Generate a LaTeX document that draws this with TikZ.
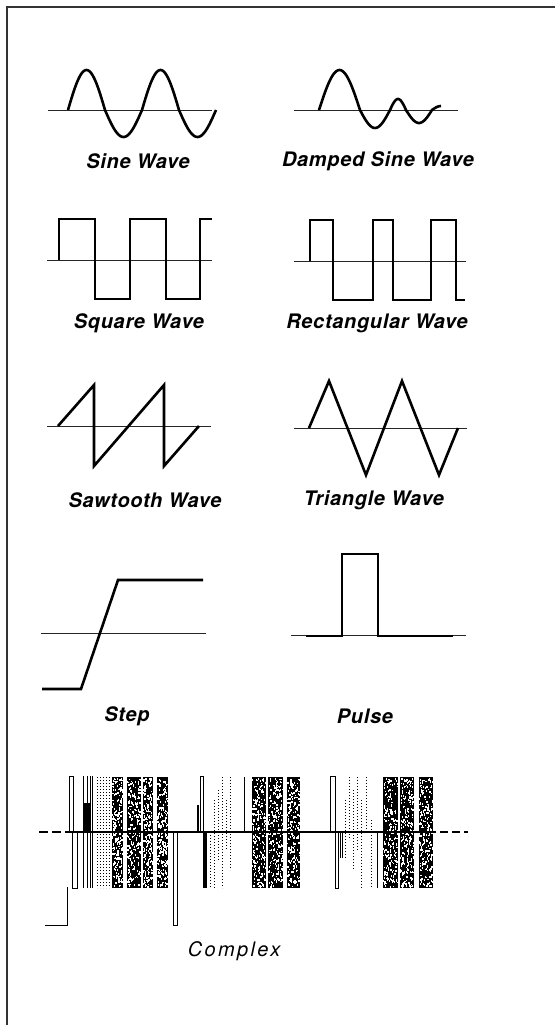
\documentclass[tikz,border=0pt]{standalone}
\usepackage{fontspec}
\setsansfont{TeX Gyre Heros}
\newfontfamily\wavefont[LetterSpace=3.5]{TeX Gyre Heros}
\newfontfamily\cplxfont[LetterSpace=12]{TeX Gyre Heros}

\begin{document}
\begin{tikzpicture}[
  x=1pt, y=-1pt,
  wave/.style={line width=2.6pt, line join=miter},
  axisline/.style={line width=0.8pt, black!85},
  wavelbl/.style={font=\wavefont\bfseries\itshape\fontsize{20}{20}\selectfont, inner sep=0pt},
  cplxlbl/.style={font=\cplxfont\itshape\fontsize{20}{20}\selectfont, inner sep=0pt},
  thinbar/.style={line width=0.8pt},
  dotline/.style={line width=0.7pt, dash pattern=on 1.2pt off 1.8pt},
  speck/.style={fill=white}
]
\useasboundingbox (0,0) rectangle (555,1025);

% frame
\draw[line width=1.4pt, black!80] (555,7) -- (7,7) -- (7,1025);

% sine wave
\draw[axisline] (48,110) -- (212,110);
\draw[wave] plot[domain=0:720, samples=121] ({68+\x/720*148}, {110-(sin(\x)>0 ? 40 : 27)*sin(\x)});
\node[wavelbl] (sinelbl) at (138,161) {Sine Wave};

% damped sine wave
\draw[axisline] (294,110) -- (458,110);
\draw[wave] plot[domain=0:180, samples=25] ({319+\x/180*41}, {110-40*sin(\x)})
  -- plot[domain=0:180, samples=25] ({360+\x/180*30}, {110+18*sin(\x)})
  -- plot[domain=0:180, samples=20] ({390+\x/180*16}, {110-11*sin(\x)})
  -- plot[domain=0:180, samples=20] ({406+\x/180*26}, {110+13*sin(\x)})
  -- plot[domain=0:90, samples=8] ({432+\x/90*9}, {110-4*sin(\x)});
\node[wavelbl] (dampedlbl) at (378,161) {Damped Sine Wave};

% square wave
\draw[axisline] (47,260) -- (212,260);
\draw[wave] (59,260) |- (95,219) |- (130,299) |- (166,219) |- (200,299) |- (212,219);
\node[wavelbl] (squarelbl) at (139,323) {Square Wave};

% rectangular wave
\draw[axisline] (294,261) -- (466,261);
\draw[wave] (310,261) |- (333,220) |- (373,300) |- (393,220) |- (431,300) |- (456,220) |- (465,300);
\node[wavelbl] (rectlbl) at (377,323) {Rectangular Wave};

% sawtooth wave
\draw[axisline] (47,426) -- (211,426);
\draw[wave] (58,426) -- (94,385) -- (94,466) -- (164,385) -- (164,466) -- (199,426);
\node[wavelbl] (sawlbl) at (145,500) {Sawtooth Wave};

% triangle wave
\draw[axisline] (294,428) -- (467,428);
\draw[wave] (309,428) -- (329,381) -- (366,475) -- (402,381) -- (439,475) -- (458,428);
\node[wavelbl] (trilbl) at (374,500) {Triangle Wave};

% step
\draw[axisline] (41,633) -- (206,633);
\draw[wave] (42,689) -- (81,689) -- (118,580) -- (203,580);
\node[wavelbl] (steplbl) at (127,716) {Step};

% pulse
\draw[axisline] (291,635) -- (466,635);
\draw[wave] (306,636) -- (342,636) -- (342,554) -- (378,554) -- (378,636) -- (453,636);
\node[wavelbl] (pulselbl) at (365,716) {Pulse};

% complex: dense bars
\pgfmathsetseed{4242}
\foreach \xa/\xb in {112/123,127/141,143/153,157/168,252/266,268/283,287/300,383/398,400/414,419/433} {
  \fill (\xa,777) rectangle (\xb,888);
  \foreach \k in {1,...,230} {
    \pgfmathsetmacro\px{\xa+rnd*(\xb-\xa-1)}
    \pgfmathsetmacro\py{778+rnd*108}
    \fill[speck] (\px,\py) rectangle ++(1.2,1.7);
  }
}

% complex: first burst
\draw[line width=1pt] (45,925) -| (67,887);
\draw[thinbar] (69,776) rectangle (73,832);
\draw[thinbar] (72,832) rectangle (77,888);
\foreach \x in {83,87,90,92}
  \draw[thinbar] (\x,776) -- (\x,888);
\fill (83,803) rectangle (91,832);
\foreach \x in {97,100,103,106,109}
  \draw[dotline] (\x,777) -- (\x,888);
\draw[thinbar] (173,832) rectangle (177,925);

% complex: second burst
\draw[thinbar] (200,776) rectangle (203,832);
\draw[line width=1.5pt] (198,805) -- (198,832);
\fill (203,832) rectangle (207,888);
\foreach \x/\ya/\yb in {210/832/888,214/800/888,218/790/860,222/777/888,226/800/850,230/777/870}
  \draw[dotline] (\x,\ya) -- (\x,\yb);
\draw[thinbar] (244,777) -- (244,832);

% complex: third burst
\draw[thinbar] (330,776) rectangle (335,832);
\draw[thinbar] (335,832) rectangle (338,888);
\foreach \x in {340,342}
  \draw[line width=0.6pt] (\x,832) -- (\x,858);
\foreach \x/\ya/\yb in {345/800/860,349/777/840,353/790/870,357/777/850,361/800/888,366/777/830,371/820/888}
  \draw[dotline] (\x,\ya) -- (\x,\yb);
\draw[thinbar] (377,832) -- (377,888);

% complex: baseline
\draw[line width=2pt, dash pattern=on 9pt off 4pt] (39,832) -- (66,832);
\draw[line width=2pt] (66,832) -- (436,832);
\draw[line width=2pt, dash pattern=on 8pt off 4pt] (440,832) -- (468,832);
\node[cplxlbl] (cplxlbl) at (234,951) {Complex};

\end{tikzpicture}
\end{document}
